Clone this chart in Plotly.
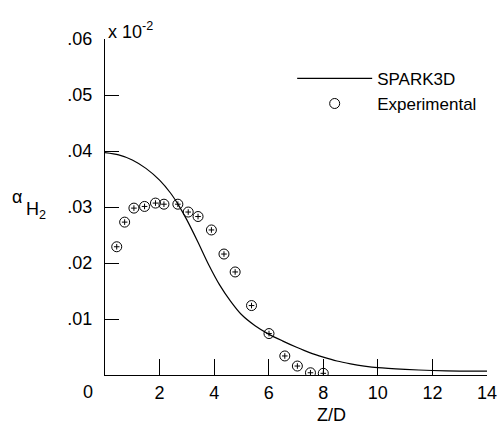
import plotly.graph_objects as go

# SPARK3D computed profile
z_model = [0.0, 0.5, 1.0, 1.5, 2.0, 2.4, 2.7, 3.0, 3.4, 3.8, 4.2, 4.6, 5.0, 5.5, 6.0,
           6.5, 7.0, 7.5, 8.0, 8.5, 9.0, 9.5, 10.0, 11.0, 12.0, 13.0, 14.0]
a_model = [0.0397, 0.0393, 0.0384, 0.0369, 0.0348, 0.0325, 0.0303, 0.0277, 0.0238,
           0.0197, 0.0161, 0.0132, 0.0108, 0.0088, 0.0073, 0.0061, 0.0050, 0.0040,
           0.0032, 0.0025, 0.0020, 0.0016, 0.0013, 0.0010, 0.0008, 0.0007, 0.0007]

# Experimental data
z_exp = [0.43, 0.72, 1.06, 1.45, 1.85, 2.16, 2.67, 3.05, 3.41, 3.90, 4.36, 4.77,
         5.37, 6.01, 6.59, 7.05, 7.53, 8.0]
a_exp = [0.0229, 0.0273, 0.0298, 0.0301, 0.0307, 0.0305, 0.0305, 0.0291, 0.0283,
         0.0259, 0.0216, 0.0184, 0.0124, 0.0074, 0.0034, 0.0016, 0.0004, 0.0003]

x_ticks = [2, 4, 6, 8, 10, 12, 14]
y_ticks = [0.01, 0.02, 0.03, 0.04, 0.05, 0.06]
y_ticktext = [".01", ".02", ".03", ".04", ".05", ".06"]

FONT = "Liberation Sans, Arial, Helvetica, sans-serif"

fig = go.Figure()
fig.add_trace(go.Scatter(x=z_model, y=a_model, mode="lines", name="SPARK3D",
                         line=dict(color="black", width=1.2, shape="spline", smoothing=0.8)))
fig.add_trace(go.Scatter(x=z_exp, y=a_exp, mode="markers", name="Experimental",
                         marker=dict(symbol="circle-open", size=10, color="black",
                                     line=dict(color="black", width=1))))
fig.add_trace(go.Scatter(x=z_exp, y=a_exp, mode="markers", showlegend=False,
                         hoverinfo="skip",
                         marker=dict(symbol="cross-thin-open", size=4, color="black",
                                     line=dict(color="black", width=1))))

fig.update_layout(
    width=499, height=431,
    margin=dict(l=105, r=12, t=39, b=56),
    paper_bgcolor="white", plot_bgcolor="white",
    font=dict(family=FONT, size=18, color="black"),
    showlegend=True,
    legend=dict(x=0.49, y=0.935, xanchor="left", yanchor="top",
                bgcolor="rgba(0,0,0,0)", font=dict(size=17), itemwidth=75,
                tracegroupgap=0),
    xaxis=dict(range=[0, 14], tickvals=x_ticks, ticks="inside", ticklen=16,
               tickcolor="black", tickwidth=1, showline=True, linecolor="black",
               linewidth=1.2, showgrid=False, zeroline=False,
               ticklabelstandoff=1, automargin=False),
    yaxis=dict(range=[0, 0.06], tickvals=y_ticks, ticktext=y_ticktext,
               ticks="inside", ticklen=14, tickcolor="black", tickwidth=1,
               showline=True, linecolor="black", linewidth=1.2, showgrid=False,
               zeroline=False, ticklabelstandoff=8, automargin=False),
    annotations=[
        dict(text="0", xref="x", yref="y", x=0, y=0, xshift=-17, yshift=-17,
             showarrow=False, font=dict(size=18)),
        dict(text="Z/D", xref="paper", yref="paper", x=0.592, y=-0.12,
             xanchor="center", yanchor="middle", showarrow=False, font=dict(size=18)),
        dict(text="x 10<sup>-2</sup>", xref="paper", yref="paper", x=0.003, y=0.985,
             xanchor="left", yanchor="bottom", showarrow=False, font=dict(size=18)),
        dict(text="α", xref="paper", yref="paper", x=-0.23, y=0.53,
             xanchor="center", yanchor="middle", showarrow=False, font=dict(size=18)),
        dict(text="H<sub>2</sub>", xref="paper", yref="paper", x=-0.18, y=0.49,
             xanchor="center", yanchor="middle", showarrow=False, font=dict(size=18)),
    ],
)

fig.write_html("out.html")
